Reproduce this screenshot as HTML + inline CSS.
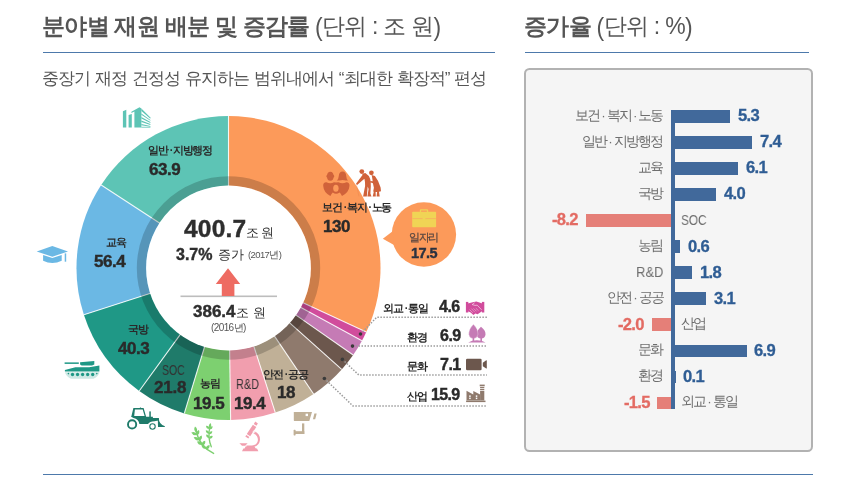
<!DOCTYPE html>
<html lang="ko">
<head>
<meta charset="utf-8">
<title>분야별 재원 배분 및 증감률</title>
<style>
html,body{margin:0;padding:0;background:#fff;}
body{width:860px;height:491px;position:relative;overflow:hidden;font-family:"Liberation Sans",sans-serif;color:#333;}
.t{position:absolute;white-space:nowrap;line-height:1;will-change:transform;}
.b{font-weight:bold;}
.k{-webkit-text-stroke:0.4px;}
.r{text-align:right;}
.p{display:inline-block;transform:translateY(1.2px) scaleY(1.14);}
.c{text-align:center;}
svg{position:absolute;left:0;top:0;}
.rule{position:absolute;height:1px;background:#4d79ab;}
.box{position:absolute;left:524px;top:68.3px;width:285px;height:379.8px;border:2px solid #b2b2b2;border-radius:5.5px;background:#f5f5f5;}
.bar{position:absolute;height:12.5px;background:#41699b;}
.neg{background:#e57f78;}
.lab{font-size:13.5px;color:#6e6e6e;letter-spacing:-1.9px;}
.lab i{font-style:normal;margin:0 2.7px 0 2.1px;}
.sl i{font-style:normal;margin:0 0.7px 0 2px;}
.val{font-size:16.6px;font-weight:bold;color:#2f5d94;letter-spacing:-0.7px;-webkit-text-stroke:0.3px #2f5d94;}
.nval{font-size:16.6px;font-weight:bold;color:#e36b63;letter-spacing:-0.7px;-webkit-text-stroke:0.3px #e36b63;}
.sl{font-size:10.6px;font-weight:bold;color:#2a2a2a;letter-spacing:-1.15px;}
.sv{font-size:17px;font-weight:bold;color:#2a2a2a;letter-spacing:-0.5px;-webkit-text-stroke:0.4px #2a2a2a;}
</style>
</head>
<body>
<div class="rule" style="left:43px;top:52px;width:452px;"></div>
<div class="rule" style="left:525px;top:52px;width:284px;"></div>
<div class="rule" style="left:43px;top:474px;width:770px;"></div>
<div class="box"></div>
<svg width="860" height="491" viewBox="0 0 860 491">
<g>
<path d="M228.5 268.0L228.50 116.00A152.0 152.0 0 0 1 366.31 332.12Z" fill="#FC9A5A"/>
<path d="M228.5 268.0L366.31 332.12A152.0 152.0 0 0 1 361.95 340.76Z" fill="#D14C9C"/>
<path d="M228.5 268.0L361.95 340.76A152.0 152.0 0 0 1 353.16 354.97Z" fill="#C57BB5"/>
<path d="M228.5 268.0L353.16 354.97A152.0 152.0 0 0 1 341.72 369.41Z" fill="#6C574D"/>
<path d="M228.5 268.0L341.72 369.41A152.0 152.0 0 0 1 313.59 393.95Z" fill="#8F7A6D"/>
<path d="M228.5 268.0L313.59 393.95A152.0 152.0 0 0 1 275.32 412.61Z" fill="#C0B097"/>
<path d="M228.5 268.0L275.32 412.61A152.0 152.0 0 0 1 230.62 419.99Z" fill="#F19EAE"/>
<path d="M228.5 268.0L230.62 419.99A152.0 152.0 0 0 1 184.31 413.44Z" fill="#7DD070"/>
<path d="M228.5 268.0L184.31 413.44A152.0 152.0 0 0 1 139.22 391.02Z" fill="#1F7B6A"/>
<path d="M228.5 268.0L139.22 391.02A152.0 152.0 0 0 1 83.89 314.82Z" fill="#1F9886"/>
<path d="M228.5 268.0L83.89 314.82A152.0 152.0 0 0 1 101.17 184.99Z" fill="#6BB8E4"/>
<path d="M228.5 268.0L101.17 184.99A152.0 152.0 0 0 1 228.50 116.00Z" fill="#5DC4B5"/>
</g>
<g stroke="#fff" stroke-opacity="0.85" stroke-width="1.1">
<line x1="228.50" y1="187.00" x2="228.50" y2="116.00"/>
<line x1="301.94" y1="302.17" x2="366.31" y2="332.12"/>
<line x1="299.62" y1="306.77" x2="361.95" y2="340.76"/>
<line x1="294.93" y1="314.34" x2="353.16" y2="354.97"/>
<line x1="288.84" y1="322.04" x2="341.72" y2="369.41"/>
<line x1="273.84" y1="335.12" x2="313.59" y2="393.95"/>
<line x1="253.45" y1="345.06" x2="275.32" y2="412.61"/>
<line x1="229.63" y1="348.99" x2="230.62" y2="419.99"/>
<line x1="204.95" y1="345.50" x2="184.31" y2="413.44"/>
<line x1="180.92" y1="333.56" x2="139.22" y2="391.02"/>
<line x1="151.44" y1="292.95" x2="83.89" y2="314.82"/>
<line x1="160.64" y1="223.77" x2="101.17" y2="184.99"/>
</g>
<circle cx="228.5" cy="268" r="87" fill="none" stroke="#000" stroke-opacity="0.19" stroke-width="9.4"/>
<circle cx="228.5" cy="268" r="82.4" fill="#fff"/>
<!-- arrow and centre line -->
<rect x="180.5" y="295.5" width="96.5" height="1.6" fill="#bdbdbd"/>
<path d="M228 268.2L240.2 284H234.4V296H221.8V284H215.8Z" fill="#ee6b62"/>
<!-- bubble -->
<circle cx="423.9" cy="234.5" r="32.2" fill="#FC9A5A"/>
<path d="M393 231L382.8 238.7L394 245Z" fill="#FC9A5A"/>
<!-- leader lines -->
<g fill="none" stroke="#9c9c9c" stroke-width="1.5" stroke-dasharray="1.5 1.5">
<path d="M360.5 334L376.8 317.2H487"/>
<path d="M352.5 346.1H487"/>
<path d="M342.4 359.4L358.8 375H487"/>
<path d="M324.4 378.5L353 406H487"/>
</g>
<g fill="#3a3a3a">
<circle cx="360.5" cy="334" r="1.8"/><circle cx="352.5" cy="346.1" r="1.8"/><circle cx="342.4" cy="359.4" r="1.8"/><circle cx="324.4" cy="378.5" r="1.8"/>
</g>
<!-- building -->
<g fill="#5DC4B5">
<path d="M122.9 111.3L126.3 109.7V127.6H122.9Z"/>
<path d="M128.6 115L131.8 113.9V127.6H128.6Z"/>
<path d="M131.4 111.7L139.5 107.2L141.4 108.6V127.6H134.4V111.4L131.4 113Z"/>
<path d="M141.4 108.6L150.4 117.4V118.8L141.4 111Z"/>
<path d="M141.4 113.4L150.4 119.9V120.8L141.4 114.8Z"/>
<path d="M141.4 117L150.4 122V122.9L141.4 118.4Z"/>
<path d="M141.4 120.6L150.4 124.1V125L141.4 122Z"/>
<path d="M141.4 124L150.4 126V126.8L141.4 125.3Z"/>
<path d="M141.4 126.8H150.4V127.6H141.4Z"/>
</g>
<!-- graduation cap -->
<g fill="#6BB8E4">
<path d="M36.7 251.4L52.3 246.1L68 251.4L52.3 256.7Z"/>
<path d="M43.1 254.9L52.3 258L61.7 254.9V260.8Q52.3 265.2 43.1 260.8Z"/>
<rect x="64.7" y="253.4" width="1.5" height="8.3"/>
</g>
<!-- tank -->
<g fill="#1F9886">
<rect x="64.6" y="362.4" width="14.2" height="1.5"/>
<path d="M80.1 362.2L94.3 361V364.4L92 365.6H81.6L80.1 364.6Z"/>
<path d="M64.9 370L75.4 367.3H89.2L99.4 365.5V371.4H64.9Z"/>
<path d="M65 372.2H99.5Q98.5 376.5 93.5 378.8H71Q66 376.5 65 372.2Z" fill-opacity="0.22"/>
<circle cx="72.5" cy="374.5" r="1.65"/><circle cx="77.55" cy="374.5" r="1.65"/><circle cx="82.6" cy="374.5" r="1.65"/><circle cx="87.65" cy="374.5" r="1.65"/><circle cx="92.7" cy="374.5" r="1.65"/>
<circle cx="68.4" cy="373.6" r="0.8"/><circle cx="96.8" cy="373.6" r="0.8"/>
</g>
<!-- tractor -->
<g fill="#1F7B6A">
<circle cx="132.1" cy="424.4" r="4.1" fill="none" stroke="#1F7B6A" stroke-width="1.9"/>
<circle cx="152.5" cy="426.5" r="2.7" fill="none" stroke="#1F7B6A" stroke-width="1.1"/>
<path d="M133.4 408L143.6 408L146.2 417H131.2ZM134.9 409.5L134.2 416H144.6L142.7 409.5Z" fill-rule="evenodd"/>
<path d="M140.2 407.2L141.6 408.2H139.6Z"/>
<rect x="149.3" y="411.4" width="1.5" height="5.8"/>
<path d="M131.2 416.8H152.9V418.1H158.6V420.6L154.5 421.2Q149.5 421.5 148 423.9H139.4Q138.6 418.8 133.5 417.9Z"/>
<path d="M157.8 418.1H158.8Q158.8 424.5 165 426.3L164.6 426.9H158Z"/>
</g>
<!-- wheat -->
<g fill="none" stroke="#7DD070" stroke-linecap="round">
<path d="M196.2 431.5Q199.5 446.5 213.6 453.4" stroke-width="1.4"/>
<path d="M209.7 427Q207.6 438 211.3 446.8" stroke-width="1.3"/>
</g>
<g fill="#7DD070">
<path d="M196.4 432.8Q198.4 429.1 195.0 426.6Q193.0 430.3 196.4 432.8Z"/>
<path d="M197.3 434.7Q195.3 430.9 191.3 432.5Q193.3 436.3 197.3 434.7Z"/>
<path d="M196.8 435.4Q200.5 433.8 198.9 430.0Q195.2 431.6 196.8 435.4Z"/>
<path d="M199.5 440.1Q197.8 436.1 193.7 437.3Q195.3 441.3 199.5 440.1Z"/>
<path d="M199.0 440.8Q202.9 439.6 201.7 435.6Q197.8 436.8 199.0 440.8Z"/>
<path d="M202.5 444.8Q201.3 440.6 197.1 441.4Q198.2 445.5 202.5 444.8Z"/>
<path d="M202.0 445.5Q206.0 444.7 205.2 440.7Q201.2 441.4 202.0 445.5Z"/>
<path d="M206.4 448.8Q205.7 444.6 201.4 444.9Q202.1 449.1 206.4 448.8Z"/>
<path d="M205.9 449.5Q210.0 449.2 209.6 445.1Q205.6 445.4 205.9 449.5Z"/>
<path d="M209.6 428.2Q212.4 426.0 210.5 422.9Q207.7 425.1 209.6 428.2Z"/>
<path d="M209.6 429.0Q209.4 425.7 206.0 425.8Q206.2 429.2 209.6 429.0Z"/>
<path d="M209.3 429.5Q212.6 429.6 212.6 426.3Q209.2 426.2 209.3 429.5Z"/>
<path d="M209.2 433.7Q209.2 430.3 205.8 430.2Q205.8 433.6 209.2 433.7Z"/>
<path d="M208.9 434.2Q212.2 434.5 212.3 431.2Q209.0 430.9 208.9 434.2Z"/>
<path d="M209.3 438.1Q209.6 434.8 206.2 434.5Q205.9 437.8 209.3 438.1Z"/>
<path d="M209.0 438.6Q212.3 439.2 212.7 435.9Q209.4 435.3 209.0 438.6Z"/>
</g>
<!-- microscope -->
<g fill="#F19EAE">
<path d="M255.3 421.6L257.9 423.4L256.4 425.7L253.8 423.9Z"/>
<path d="M252.9 424.8L256.3 427.1L250.2 436.2L246.8 433.9Z"/>
<path d="M246.3 435L249.3 437L248.3 438.5L245.3 436.5Z"/>
<path d="M254.6 431.2Q260.6 434.2 259.9 440.4Q259 446 252.6 447.2H246.5V445.6H252Q257.4 444.8 257.9 440.2Q258.2 436 253.4 433.2Z"/>
<path d="M239.4 443.2H247.6L245.2 445.8H242Z"/>
<path d="M243.4 448.6H257L258.4 451.2H242Z"/>
<path d="M245.5 446.5H254.5L256 449H244.5Z"/>
</g>
<circle cx="254" cy="431.8" r="1.5" fill="#fff" fill-opacity="0.55"/>
<!-- cctv -->
<g fill="#C0B097">
<path d="M294.4 412H312L309.3 420.9H294.4Q293.8 420.9 293.8 420.3V412.6Q293.8 412 294.4 412Z"/>
<path d="M314.4 413.6H316.7L315.2 419.3H312.9Z"/>
<rect x="302" y="423.4" width="2.3" height="10.6"/>
<rect x="295" y="431.2" width="9.3" height="2.8"/>
<rect x="293.6" y="429.8" width="2" height="5.6" rx="0.6"/>
</g>
<rect x="305.6" y="413.7" width="2.4" height="2.4" fill="#fff"/>
<!-- family -->
<g fill="#D0623A">
<ellipse cx="330.3" cy="176.2" rx="3.3" ry="4.5"/>
<rect x="326.4" y="175" width="7.8" height="2.5" rx="1.1"/>
<path d="M342.6 171.6Q346 171.8 346.2 176Q346.4 179 348 180.4Q344.8 180.9 342.6 180.1Q340.4 180.9 336.8 180.4Q338.6 179 338.8 176Q339 171.8 342.6 171.6Z"/>
<path d="M323.2 185.8Q323 182.2 326.4 182.3Q330.3 184 334 182.3L336 182.6L338.4 182.3Q342.4 184 346.4 182.3Q349.6 182.2 349.5 185.8Q349 192.6 342 196Q340.6 193.6 339.6 192.6Q336 195 332.8 192.6Q331.8 193.6 330.4 196Q323.6 192.6 323.2 185.8Z"/>
</g>
<ellipse cx="335.9" cy="188.2" rx="2.7" ry="3.5" fill="#FC9A5A"/>
<!-- elderly -->
<g fill="#D0623A">
<circle cx="361.8" cy="171.6" r="2.4"/>
<circle cx="371.4" cy="172.8" r="2.35"/>
<path d="M362.2 173.7L365.3 173.1Q368.9 175.2 370.2 179Q371.1 182 370.8 186.4L370.4 193.5L371.5 196.5H367.4L368.6 189L367.7 186.4L366.8 196.5H363.1L365.1 186Q365.3 182 364.4 178.8L357.1 184.9L356 183.8L362.5 175Z"/>
<path d="M371.7 174.9L374.9 176.1Q378.6 180.6 380.6 187.6L381 191.3L379 191.7L379.7 196.5H376.6L377.1 192H375.6L375.8 196.5H372.7L373.8 191.7L373.2 191.5L373.9 187.8L372.9 183.2L370.1 182.3L370.3 181.1L372.7 181.2L372.2 178Z"/>
<path d="M356.5 184.2L358.9 196.4" fill="none" stroke="#D0623A" stroke-opacity="0.3" stroke-width="0.6"/>
</g>
<!-- briefcase -->
<path d="M419.8 212V210.4Q419.8 209.2 421 209.2H427Q428.2 209.2 428.2 210.4V212H426.9V210.5H421.1V212Z" fill="#F0D455"/>
<rect x="412.2" y="211.8" width="23.9" height="15.4" rx="0.8" fill="#F0D455"/>
<rect x="412.2" y="218" width="23.9" height="1.1" fill="#F6B85C"/>
<rect x="422.6" y="217.4" width="2.8" height="3" rx="0.6" fill="#F0D455"/>
<!-- handshake -->
<g fill="#D14C9C">
<rect x="465.9" y="301.9" width="2.4" height="10.6"/>
<rect x="481.9" y="301.9" width="2.4" height="10.6"/>
<path d="M467.8 303.6L472.6 302.2L476.4 301.5L482.4 303.4V311L479.8 312.8L477.6 314.3L475.4 313.5L473.4 314.9L470.6 312.6L467.8 311.2Z"/>
</g>
<g fill="none" stroke="#fff" stroke-opacity="0.8" stroke-width="0.7">
<path d="M474.6 302.8L472.2 304.6L475 305.4L477.2 305.2L481.6 309.8"/>
<path d="M469.6 309.6L472.8 312.8M471.4 308.6L474.8 312.2M473.6 308.4L476.6 311.4M475.8 308.2L478.6 310.8" stroke-opacity="0.55"/>
</g>
<!-- trees -->
<g fill="#C57BB5">
<path d="M481 326.7Q485.8 330.6 485.5 334.4Q485 338.4 481.2 338.6Q477 338.4 476.7 334.4Q476.6 330.6 481 326.7Z"/>
<path d="M473.4 324.2Q478.4 329.2 478 334.2Q477.4 338.4 473.4 338.6Q469.2 338.4 468.8 334.2Q468.5 329.2 473.4 324.2Z" stroke="#fff" stroke-opacity="0.6" stroke-width="0.5"/>
<rect x="472.6" y="337" width="1.6" height="4"/>
<rect x="480.4" y="337" width="1.6" height="4"/>
<path d="M468.2 342.5Q472 340.2 476.9 340.2Q481.8 340.2 485.6 342.5Z"/>
</g>
<!-- camera -->
<g fill="#6C574D">
<rect x="466" y="358.8" width="15.6" height="11.5" rx="1.2"/>
<path d="M482.8 362.7L486.2 360.3Q486.8 360.1 486.8 360.8V368Q486.8 368.7 486.2 368.5L482.8 366.3Z"/>
</g>
<!-- factory -->
<g fill="#8F7A6D">
<path d="M479.7 384.6H484.7V386.3H479.7Z"/>
<path d="M480.1 386.9H484.3V388.3H480.1ZM480.1 388.9H484.3V390.3H480.1ZM480.1 390.9H484.3V400.6H480.1Z"/>
<path d="M466.5 390.8L473.3 394.4V391L480.1 394.6V400.6H466.5Z"/>
<rect x="466.1" y="400.6" width="19.4" height="1.5"/>
</g>
<g fill="#fff">
<rect x="469.2" y="395.4" width="1.5" height="1.5"/><rect x="469.2" y="397.6" width="1.5" height="1.5"/>
<rect x="475.8" y="395.4" width="1.5" height="1.5"/><rect x="475.8" y="397.6" width="1.5" height="1.5"/>
</g>

</svg>
<div class="bar" style="left:671.2px;top:110.2px;width:3.7px;height:298.8px;"></div>
<div class="bar" style="left:674.9px;top:110.2px;width:55.3px;"></div>
<div class="t lab r" style="right:197.7px;top:108.7px;">보건<i>·</i>복지<i>·</i>노동</div>
<div class="t val" style="left:738.0px;top:108.3px;">5.3</div>
<div class="bar" style="left:674.9px;top:136.2px;width:77.3px;"></div>
<div class="t lab r" style="right:197.7px;top:134.7px;">일반<i>·</i>지방행정</div>
<div class="t val" style="left:760.0px;top:134.3px;">7.4</div>
<div class="bar" style="left:674.9px;top:162.3px;width:63.6px;"></div>
<div class="t lab r" style="right:197.7px;top:160.8px;">교육</div>
<div class="t val" style="left:746.3px;top:160.4px;">6.1</div>
<div class="bar" style="left:674.9px;top:188.3px;width:41.0px;"></div>
<div class="t lab r" style="right:197.7px;top:186.8px;">국방</div>
<div class="t val" style="left:723.7px;top:186.4px;">4.0</div>
<div class="bar neg" style="left:585.7px;top:214.3px;width:85.5px;"></div>
<div class="t lab" style="left:681.3px;top:212.8px;font-size:14.4px;letter-spacing:0;transform:scaleX(0.82);transform-origin:0 0;">SOC</div>
<div class="t nval r" style="right:281.8px;top:212.4px;">-8.2</div>
<div class="bar" style="left:674.9px;top:240.4px;width:4.9px;"></div>
<div class="t lab r" style="right:197.7px;top:238.9px;">농림</div>
<div class="t val" style="left:687.6px;top:238.5px;">0.6</div>
<div class="bar" style="left:674.9px;top:266.4px;width:17.3px;"></div>
<div class="t lab r" style="right:196.8px;top:264.9px;font-size:14.4px;letter-spacing:0;transform:scaleX(0.9);transform-origin:100% 0;">R&amp;D</div>
<div class="t val" style="left:700.0px;top:264.5px;">1.8</div>
<div class="bar" style="left:674.9px;top:292.4px;width:31.2px;"></div>
<div class="t lab r" style="right:197.7px;top:290.9px;">안전<i>·</i>공공</div>
<div class="t val" style="left:713.9px;top:290.5px;">3.1</div>
<div class="bar neg" style="left:651.6px;top:318.4px;width:19.6px;"></div>
<div class="t lab" style="left:681.3px;top:316.9px;">산업</div>
<div class="t nval r" style="right:215.9px;top:316.5px;">-2.0</div>
<div class="bar" style="left:674.9px;top:344.5px;width:71.7px;"></div>
<div class="t lab r" style="right:197.7px;top:343.0px;">문화</div>
<div class="t val" style="left:754.4px;top:342.6px;">6.9</div>
<div class="bar" style="left:674.9px;top:370.5px;width:0.3px;"></div>
<div class="t lab r" style="right:197.7px;top:369.0px;">환경</div>
<div class="t val" style="left:683.0px;top:368.6px;">0.1</div>
<div class="bar neg" style="left:657.0px;top:396.5px;width:14.2px;"></div>
<div class="t lab" style="left:681.3px;top:395.0px;">외교<i>·</i>통일</div>
<div class="t nval r" style="right:210.5px;top:394.6px;">-1.5</div>
<div class="t" style="left:42px;top:15px;font-size:23px;color:#555;letter-spacing:-0.75px;"><span class="b">분야별 재원 배분 및 증감률</span> <span class="p">(</span>단위 : 조 원<span class="p">)</span></div>
<div class="t" style="left:524px;top:15px;font-size:23px;color:#555;letter-spacing:-0.7px;"><span class="b">증가율</span> <span class="p">(</span>단위 : %<span class="p">)</span></div>
<div class="t" style="left:42px;top:70px;font-size:17px;color:#555;letter-spacing:-0.9px;word-spacing:0.8px;">중장기 재정 건정성 유지하는 범위내에서 “최대한 확장적” 편성</div>

<div class="t b k" style="left:184px;top:216.5px;font-size:24.5px;color:#2e2e2e;letter-spacing:0.2px;">400.7</div>
<div class="t" style="left:246.3px;top:227px;font-size:12.5px;color:#333;letter-spacing:-0.6px;">조 원</div>
<div class="t b k" style="left:176px;top:246.5px;font-size:16px;color:#2e2e2e;">3.7%</div>
<div class="t" style="left:217.5px;top:247.5px;font-size:13px;color:#333;letter-spacing:-0.3px;">증가</div>
<div class="t" style="left:247.5px;top:250px;font-size:9.5px;color:#555;letter-spacing:-0.6px;">(2017년)</div>
<div class="t b k" style="left:193px;top:303px;font-size:17px;color:#2e2e2e;">386.4</div>
<div class="t" style="left:236px;top:305.5px;font-size:13px;color:#333;">조 원</div>
<div class="t" style="left:210.5px;top:322.5px;font-size:10px;color:#555;letter-spacing:-0.6px;">(2016년)</div>

<div class="t sl" style="left:148px;top:145px;">일반<i>·</i>지방행정</div>
<div class="t sv" style="left:148.5px;top:160.5px;">63.9</div>
<div class="t sl" style="left:106.3px;top:236.5px;">교육</div>
<div class="t sv" style="left:93.5px;top:253px;">56.4</div>
<div class="t sl" style="left:128px;top:323.5px;">국방</div>
<div class="t sv" style="left:118px;top:339.5px;">40.3</div>
<div class="t" style="left:162.2px;top:362.5px;font-size:14.2px;color:#333;transform:scaleX(0.74);transform-origin:0 0;">SOC</div>
<div class="t sv" style="left:154px;top:378.5px;letter-spacing:-0.2px;">21.8</div>
<div class="t sl" style="left:200.3px;top:378px;">농림</div>
<div class="t sv" style="left:193.3px;top:395px;">19.5</div>
<div class="t" style="left:236.3px;top:377.7px;font-size:13.8px;color:#333;transform:scaleX(0.79);transform-origin:0 0;">R&amp;D</div>
<div class="t sv" style="left:234.2px;top:395px;">19.4</div>
<div class="t sl" style="left:263px;top:368.5px;">안전<i>·</i>공공</div>
<div class="t sv" style="left:277.2px;top:384px;font-size:17px;">18</div>
<div class="t sl" style="left:322px;top:202px;">보건<i>·</i>복지<i>·</i>노동</div>
<div class="t sv" style="left:323.3px;top:217.5px;">130</div>

<div class="t" style="left:409px;top:232.2px;font-size:10.8px;color:#5a4740;letter-spacing:-1.3px;-webkit-text-stroke:0.25px #5a4740;">일자리</div>
<div class="t b c k" style="left:394px;width:60px;top:245.5px;font-size:14.5px;color:#2b3240;letter-spacing:-0.6px;">17.5</div>

<div class="t sl" style="left:383.2px;top:303px;">외교<i>·</i>통일</div>
<div class="t sl" style="left:407.3px;top:332px;">환경</div>
<div class="t sl" style="left:407.3px;top:360.5px;">문화</div>
<div class="t sl" style="left:407.3px;top:391px;">산업</div>
<div class="t sv" style="left:439.3px;top:299.3px;font-size:16px;">4.6</div>
<div class="t sv" style="left:439.6px;top:328.3px;font-size:16px;">6.9</div>
<div class="t sv" style="left:440.3px;top:356.8px;font-size:16px;">7.1</div>
<div class="t sv" style="left:430.6px;top:387.3px;font-size:16px;letter-spacing:-0.7px;">15.9</div>

</body>
</html>
